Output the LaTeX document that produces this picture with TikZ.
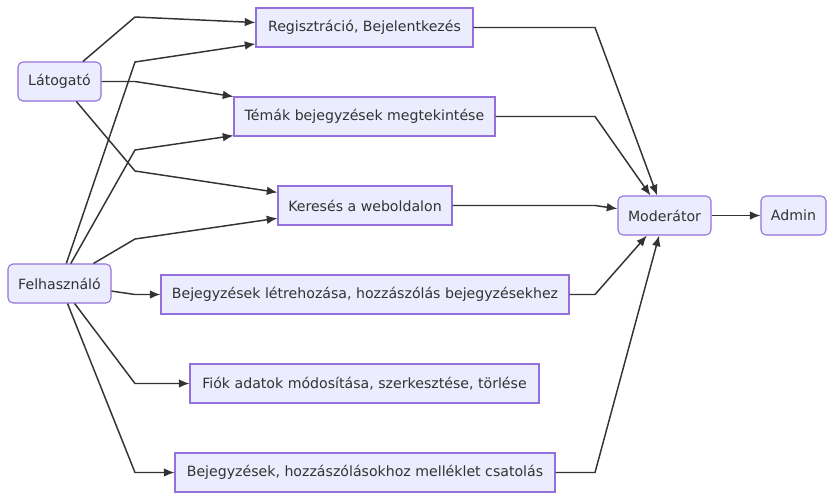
\documentclass[tikz,border=0pt]{standalone}
\usepackage{fontspec}
\usetikzlibrary{arrows.meta}
\setmainfont{DejaVu Sans}
\definecolor{boxfill}{HTML}{ECECFF}
\definecolor{boxline}{HTML}{9370DB}
\definecolor{ink}{HTML}{333333}

\begin{document}
\begin{tikzpicture}
            [->, >={Latex[length=8pt, width=6.5pt]}, x=0.75pt, y=-0.75pt, line width=1.1pt, draw=ink,
             every node/.style={font=\fontsize{10.6pt}{12pt}\selectfont, text=ink},
             box/.style={shape=rectangle, draw=boxline, fill=boxfill, line width=0.8pt,
                         minimum height=29.25pt, inner sep=0pt},
             actor/.style={box, rounded corners=3.75pt}]
            \useasboundingbox (0,0) rectangle (834,500);

            \node[actor, minimum width=62.25pt] (lat) at (59.5, 81.5) {Látogató};
            \node[actor, minimum width=77.25pt] (felh) at (59.5, 283.5) {Felhasználó};
            \node[box, minimum width=162.75pt] (reg) at (364.5, 27.5) {Regisztráció, Bejelentkezés};
            \node[box, minimum width=195.75pt] (temak) at (364.5, 116.5) {Témák bejegyzések megtekintése};
            \node[box, minimum width=130.5pt] (kereses) at (365, 205.5) {Keresés a weboldalon};
            \node[box, minimum width=306pt] (letrehoz) at (365, 294.5) {Bejegyzések létrehozása, hozzászólás bejegyzésekhez};
            \node[box, minimum width=261.75pt] (fiok) at (364.5, 383.5) {Fiók adatok módosítása, szerkesztése, törlése};
            \node[box, minimum width=285pt] (mellek) at (365, 472.5) {Bejegyzések, hozzászólásokhoz melléklet csatolás};
            \node[actor, minimum width=69.75pt] (mod) at (664.5, 215.5) {Moderátor};
            \node[actor, minimum width=48.75pt] (admin) at (793.5, 215.5) {Admin};

            \draw (lat) -- (135, 17) -- (reg);
            \draw (felh) -- (135, 62) -- (reg);
            \draw (lat) -- (135, 81.5) -- (temak);
            \draw (felh) -- (135, 150) -- (temak);
            \draw (lat) -- (135, 171) -- (kereses);
            \draw (felh) -- (135, 239) -- (kereses);
            \draw (felh) -- (135, 294.5) -- (letrehoz);
            \draw (felh) -- (135, 383.5) -- (fiok);
            \draw (felh) -- (135, 472.5) -- (mellek);

            \draw (reg) -- (595, 27.5) -- (mod);
            \draw (temak) -- (595, 116.5) -- (mod);
            \draw (kereses) -- (595, 205.5) -- (mod);
            \draw (letrehoz) -- (595, 294.5) -- (mod);
            \draw (mellek) -- (595, 472.5) -- (mod);
            \path [->] (mod) edge node {} (admin);
        \end{tikzpicture}
\end{document}
